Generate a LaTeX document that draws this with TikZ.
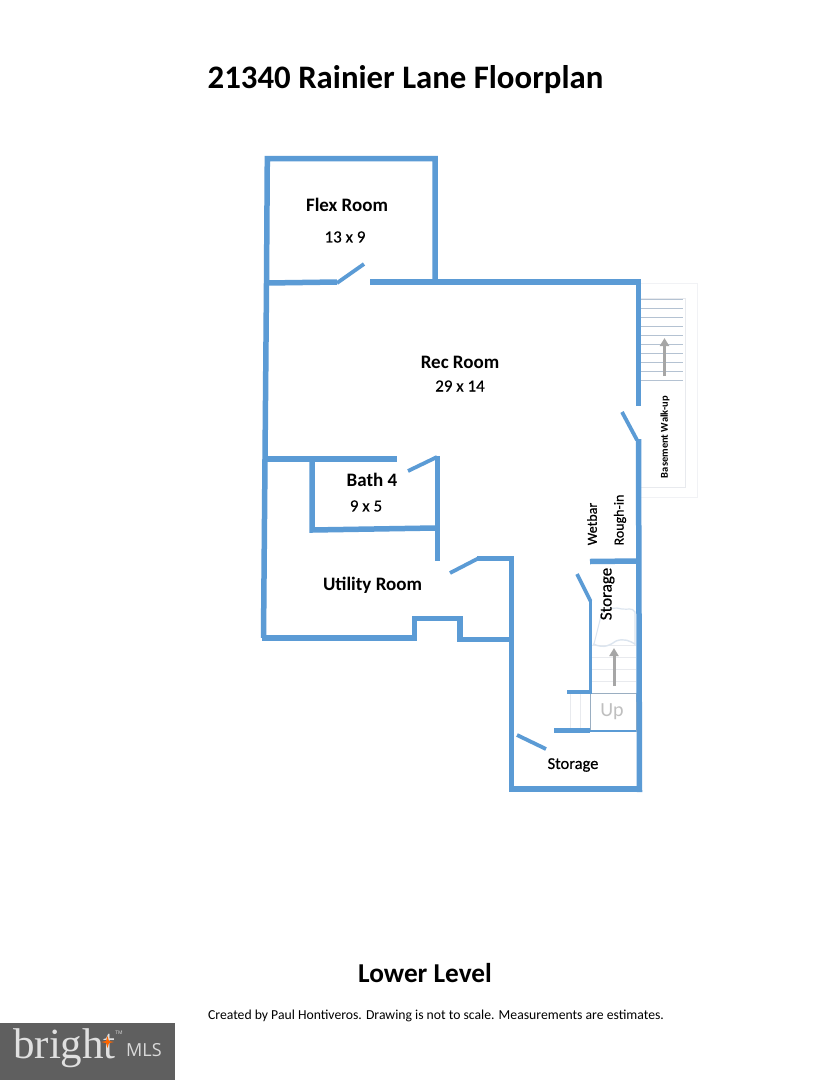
\documentclass[tikz,border=0pt]{standalone}
\usepackage{fontspec}
\setmainfont{Carlito}
\newfontfamily\logoserif{Liberation Serif}
\newfontfamily\logosans{Open Sans}
\newfontfamily\semib[FakeBold=0.5]{Carlito}
\definecolor{wall}{HTML}{5B9BD5}
\definecolor{tread}{HTML}{B4C2D2}
\definecolor{faint}{HTML}{E8EAEE}
\definecolor{faintb}{HTML}{DCE5EF}
\definecolor{arrowgray}{HTML}{A6A6A6}
\definecolor{logobg}{HTML}{5F5F5F}
\usetikzlibrary{arrows.meta}
\tikzset{
 wl/.style={draw=wall,line width=5.5pt,line cap=butt,line join=miter},
 wlthin/.style={draw=wall,line width=3.5pt,line cap=butt,line join=miter},
 dr/.style={draw=wall,line width=3.8pt,line cap=butt},
 treadline/.style={draw=tread,line width=0.8pt},
 fl/.style={draw=faint,line width=0.8pt},
 stairarrow/.style={draw=arrowgray,line width=3pt,-{Triangle[length=8pt,width=9pt]}},
 lbl/.style={font=\fontsize{19}{21}\selectfont\bfseries,text=black,inner sep=0pt},
 dim/.style={font=\fontsize{17}{19}\semib,text=black,inner sep=0pt},
}
\begin{document}
\begin{tikzpicture}[x=1pt,y=-1pt]
\useasboundingbox (0,0) rectangle (835,1080);
\fill[white] (0,0) rectangle (835,1080);
% walk-up stairs
\draw[draw=faint!60,line width=0.8pt] (640,283) -- (697,283) -- (697,497) -- (640,497);
\draw[fl] (640,298) -- (685,298) -- (685,487) -- (640,487);
\foreach \y in {299.3,308.3,317.3,326.3,335.3,344.3,353.3,362.3,371.3,380.3}
  \draw[treadline] (640,\y) -- (683,\y);
\draw[stairarrow] (664.5,376) -- (664.5,338);
% inner stairs
\foreach \y in {645,657,669,681}
  \draw[fl] (592,\y) -- (636,\y);
\foreach \x in {570,580}
  \draw[fl] (\x,694) -- (\x,730);
\draw[faintb,line width=1.2pt] (602,612) .. controls (610,608) and (615,607) .. (622,609) .. controls (628,610) and (632,607) .. (635,612) -- (635,645);
\draw[faintb,line width=1pt] (602,612) -- (594,644);
\draw[faintb,line width=1.4pt] (593,644) .. controls (605,649) and (610,645) .. (616,641) .. controls (624,638) and (630,641) .. (635,644);
\draw[draw=wall!45!gray!70,line width=0.8pt] (590,693.5) rectangle (636,731);
\draw[stairarrow] (614,686) -- (614,648);
% walls
\draw[wl] (263.5,638) -- (265,459) -- (266.5,283) -- (267.3,158.5) -- (435,158.5) -- (435,281);
\draw[wl] (267,283) -- (337,282);
\draw[dr] (337,283) -- (364,264);
\draw[wl] (370,282) -- (638.5,282) -- (638.5,406);
\draw[dr] (622,412) -- (637,440);
\draw[wl] (638.5,439) -- (639.5,792);
\draw[wl] (265,459) -- (397,459);
\draw[wl] (312,459) -- (312,530) -- (435,528);
\draw[dr] (408,471) -- (437,457);
\draw[wl] (437.5,456) -- (437.5,561);
\draw[dr] (450,573) -- (478,558.5);
\draw[wl] (477,558.5) -- (511.5,558.5) -- (511.5,791);
\draw[wl] (261.5,638) -- (414.5,638) -- (414.5,618.5) -- (460,618.5) -- (460,639.5) -- (511,639.5);
\draw[wl] (509,789) -- (642,789);
\draw[wl] (590,561.5) -- (638,561);
\draw[dr] (577,574) -- (590.5,601);
\draw[wlthin] (590.5,600) -- (590.5,693);
\draw[wlthin] (567,692) -- (592,692);
\draw[wl] (554,730.5) -- (590,730.5);
\draw[draw=wall,line width=1.5pt] (590,731) -- (636,731);
\draw[dr] (517,735) -- (546,749);
% labels
\node[font=\fontsize{32.8}{35}\selectfont\bfseries,inner sep=0pt] (title) at (405.5,79.5) {21340 Rainier Lane Floorplan};
\node[lbl] (flex) at (347,204.5) {Flex Room};
\node[dim] (flexd) at (345,237) {13 x 9};
\node[lbl] (rec) at (460,362.5) {Rec Room};
\node[dim] (recd) at (460,386) {29 x 14};
\node[lbl] (bath) at (372,479.5) {Bath 4};
\node[dim] (bathd) at (366,506) {9 x 5};
\node[lbl] (util) at (372.5,585) {Utility Room};
\node[font=\fontsize{14}{16}\semib,rotate=90,inner sep=0pt] (wet) at (592,524) {Wetbar};
\node[font=\fontsize{14}{16}\semib,rotate=90,inner sep=0pt] (rough) at (620,520) {Rough-in};
\node[font=\fontsize{17}{19}\semib,rotate=90,inner sep=0pt] (st1) at (607.5,594) {Storage};
\node[font=\fontsize{16.5}{18}\semib,inner sep=0pt] (st2) at (573,765) {Storage};
\node[font=\fontsize{20}{22}\selectfont,text=black!25,inner sep=0pt] (up) at (612,711.5) {Up};
\node[font=\fontsize{10.5}{12}\selectfont\bfseries,rotate=90,inner sep=0pt] (bw) at (665,437) {Basement Walk-up};
\node[font=\fontsize{27.3}{30}\selectfont\bfseries,inner sep=0pt] (lower) at (425,973) {Lower Level};
\node[font=\fontsize{13.7}{16}\selectfont,inner sep=0pt] (credit) at (436,1016) {Created by Paul Hontiveros. Drawing is not to scale. Measurements are estimates.};
% logo
\fill[logobg] (0,1023) rectangle (175,1080);
\node[font=\fontsize{43}{45}\logoserif,text=white!88!black,inner sep=0pt,anchor=base west] (br) at (13,1058) {bright};
\node[font=\fontsize{18}{20}\logosans,text=white!85!black,inner sep=0pt,anchor=base west] (mls) at (126,1056) {MLS};
\fill[orange!80!red] (107.5,1036) -- (109,1041) -- (114,1042) -- (109,1043) -- (107.5,1048) -- (106,1043) -- (101,1042) -- (106,1041) -- cycle;
\node[font=\fontsize{5}{6}\logosans,text=white!85!black,inner sep=0pt] (tm) at (119,1033) {TM};
\end{tikzpicture}
\end{document}
